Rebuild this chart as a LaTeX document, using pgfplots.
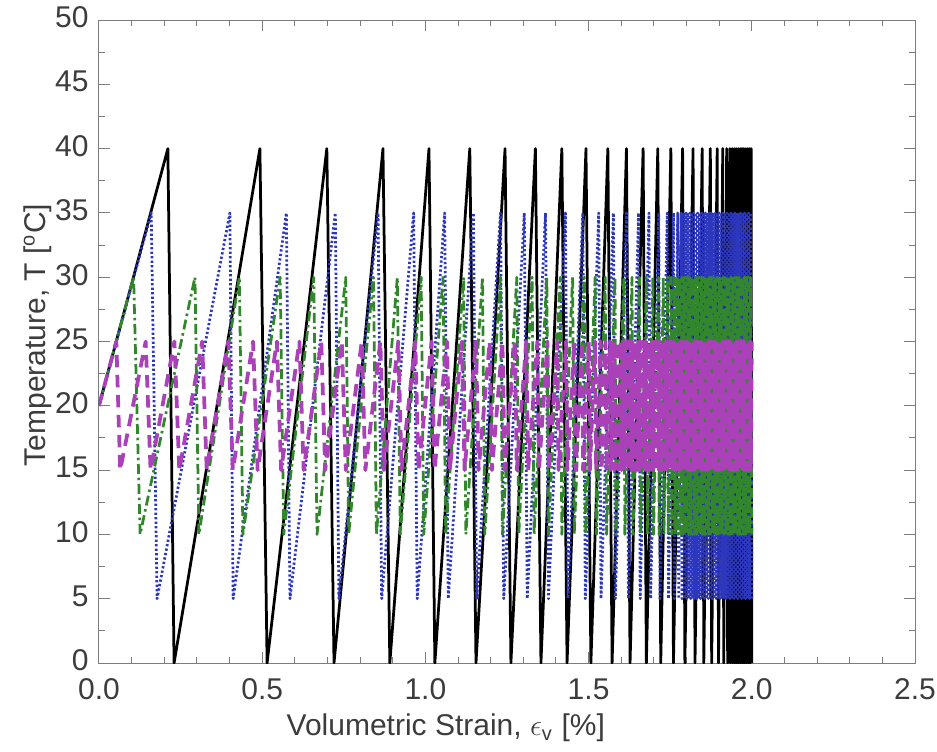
\documentclass[border=0pt]{standalone}
\usepackage{fontspec}
\setmainfont{Liberation Sans}
\usepackage{pgfplots}
\pgfplotsset{compat=1.18}
\definecolor{cblue}{RGB}{45,55,190}
\definecolor{cgreen}{RGB}{50,135,45}
\definecolor{cmag}{RGB}{170,65,185}
\definecolor{cframe}{RGB}{125,125,125}
\definecolor{ctext}{RGB}{60,60,60}
\begin{document}
\fontsize{12}{14}\selectfont
\begin{tikzpicture}
\path[use as bounding box] (-39.6pt,-35.2pt) rectangle (335.2pt,265.2pt);
\begin{axis}[
  at={(0,0)}, anchor=south west,
  scale only axis, width=326.4pt, height=257.2pt,
  xmin=0, xmax=2.5, ymin=0, ymax=50,
  xtick={0,0.5,1,1.5,2,2.5}, ytick={0,5,10,15,20,25,30,35,40,45,50},
  minor x tick num=4, minor y tick num=1,
  axis line style={cframe}, tick style={cframe, line width=0.4pt},
  major tick length=4.5pt, minor tick length=2.5pt,
  x tick label style={/pgf/number format/.cd, fixed, fixed zerofill, precision=1, /tikz/.cd, yshift=-2pt},
  y tick label style={yshift=1pt},
  /pgf/number format/assume math mode=true,
  tick label style={text=ctext, font=\fontsize{12}{14}\selectfont},
  xlabel={Volumetric Strain, $\epsilon$\textsubscript{v} [\%]},
  ylabel={Temperature, T [\textsuperscript{o}C]},
  label style={text=ctext, font=\fontsize{12}{14}\selectfont},
  xlabel style={at={(axis description cs:0.425,0)}, anchor=base, yshift=-29pt},
  ylabel style={at={(axis description cs:-0.075,0.51)}, anchor=center},
  every axis plot/.append style={line join=round},
]
% black: 0 - 40
\addplot[black, line width=1.1pt] coordinates {
(0,20)(0.211,40)(0.230,0)(0.493,40)(0.515,0)(0.698,40)(0.720,0)(0.870,40)(0.891,0)(1.011,40)(1.029,0)(1.136,40)(1.155,0)(1.244,40)(1.262,0)(1.337,40)(1.354,0)(1.418,40)(1.434,0)(1.492,40)(1.507,0)(1.559,40)(1.572,0)(1.616,40)(1.627,0)(1.667,40)(1.677,0)(1.712,40)(1.721,0)(1.752,40)(1.760,0)(1.788,40)(1.795,0)(1.820,40)(1.826,0)(1.848,40)(1.853,0)(1.873,40)(1.877,0)(1.894,40)(1.898,0)(1.911,40)(1.914,0)(1.923,40)(1.926,0)(1.933,40)(1.935,0)(1.940,40)(1.942,0)(1.946,40)(1.948,0)(1.952,40)(1.954,0)(1.958,40)(1.960,0)(1.964,40)(1.966,0)(1.970,40)(1.972,0)(1.976,40)(1.978,0)(1.982,40)(1.984,0)(1.988,40)(1.990,0)(1.993,40)(1.995,0)(1.998,40)(2.000,0)
};
% blue: 5 - 35
\addplot[cblue, line width=1.1pt, dash pattern=on 0.9pt off 0.9pt] coordinates {
(0,20)(0.160,35)(0.178,5)(0.401,35)(0.411,5)(0.574,35)(0.585,5)(0.724,35)(0.735,5)(0.855,35)(0.866,5)(0.964,35)(0.975,5)(1.059,35)(1.070,5)(1.147,35)(1.157,5)(1.230,35)(1.240,5)(1.303,35)(1.312,5)(1.368,35)(1.377,5)(1.429,35)(1.437,5)(1.482,35)(1.490,5)(1.531,35)(1.538,5)(1.576,35)(1.582,5)(1.616,35)(1.622,5)(1.653,35)(1.658,5)(1.685,35)(1.690,5)(1.715,35)(1.719,5)(1.741,35)(1.745,5)(1.760,35)(1.763,5)(1.773,35)(1.776,5)(1.784,35)(1.786,5)(1.792,35)(1.794,5)(1.799,35)(1.801,5)
(1.804,35)(1.807,5)(1.810,35)(1.813,5)(1.816,35)(1.819,5)(1.822,35)(1.825,5)(1.828,35)(1.831,5)(1.834,35)(1.837,5)(1.840,35)(1.843,5)(1.846,35)(1.849,5)(1.852,35)(1.855,5)(1.858,35)(1.861,5)(1.864,35)(1.867,5)(1.870,35)(1.873,5)(1.876,35)(1.879,5)(1.882,35)(1.885,5)(1.888,35)(1.891,5)(1.894,35)(1.897,5)(1.900,35)(1.903,5)(1.906,35)(1.909,5)(1.912,35)(1.915,5)(1.918,35)(1.921,5)(1.924,35)(1.927,5)(1.930,35)(1.933,5)(1.936,35)(1.939,5)(1.942,35)(1.945,5)(1.948,35)(1.951,5)(1.954,35)(1.957,5)(1.960,35)(1.963,5)(1.966,35)(1.969,5)(1.972,35)(1.975,5)(1.978,35)(1.981,5)(1.984,35)(1.987,5)(1.990,35)(1.993,5)(1.996,35)(2.000,5)
};
% green: 10 - 30
\addplot[cgreen, line width=1.1pt, dash pattern=on 4pt off 1.5pt on 1pt off 1.5pt] coordinates {
(0,20)(0.106,30)(0.126,10)(0.294,30)(0.306,10)(0.430,30)(0.441,10)(0.555,30)(0.566,10)(0.658,30)(0.668,10)(0.756,30)(0.765,10)(0.841,30)(0.850,10)(0.914,30)(0.923,10)(0.987,30)(0.995,10)(1.054,30)(1.062,10)(1.117,30)(1.124,10)(1.175,30)(1.182,10)(1.230,30)(1.236,10)(1.280,30)(1.286,10)(1.327,30)(1.333,10)(1.372,30)(1.377,10)(1.413,30)(1.418,10)(1.451,30)(1.456,10)(1.487,30)(1.491,10)(1.520,30)(1.524,10)(1.551,30)(1.555,10)(1.581,30)(1.584,10)(1.608,30)(1.611,10)(1.633,30)(1.636,10)(1.656,30)(1.659,10)(1.677,30)(1.680,10)(1.697,30)(1.699,10)(1.714,30)(1.716,10)(1.729,30)(1.731,10)(1.742,30)(1.744,10)(1.753,30)(1.755,10)(1.763,30)(1.765,10)(1.772,30)(1.774,10)(1.780,30)(1.782,10)(1.786,30)(1.789,10)
(1.792,30)(1.795,10)(1.798,30)(1.801,10)(1.804,30)(1.807,10)(1.810,30)(1.813,10)(1.816,30)(1.819,10)(1.822,30)(1.825,10)(1.828,30)(1.831,10)(1.834,30)(1.837,10)(1.840,30)(1.843,10)(1.846,30)(1.849,10)(1.852,30)(1.855,10)(1.858,30)(1.861,10)(1.864,30)(1.867,10)(1.870,30)(1.873,10)(1.876,30)(1.879,10)(1.882,30)(1.885,10)(1.888,30)(1.891,10)(1.894,30)(1.897,10)(1.900,30)(1.903,10)(1.906,30)(1.909,10)(1.912,30)(1.915,10)(1.918,30)(1.921,10)(1.924,30)(1.927,10)(1.930,30)(1.933,10)(1.936,30)(1.939,10)(1.942,30)(1.945,10)(1.948,30)(1.951,10)(1.954,30)(1.957,10)(1.960,30)(1.963,10)(1.966,30)(1.969,10)(1.972,30)(1.975,10)(1.978,30)(1.981,10)(1.984,30)(1.987,10)(1.990,30)(1.993,10)(1.996,30)(2.000,10)
};
% magenta: 15 - 25
\addplot[cmag, line width=1.5pt, dash pattern=on 5pt off 3pt] coordinates {
(0,20)(0.053,25)(0.065,15)(0.143,25)(0.158,15)(0.231,25)(0.246,15)(0.316,25)(0.330,15)(0.396,25)(0.410,15)(0.472,25)(0.486,15)(0.545,25)(0.558,15)(0.614,25)(0.627,15)(0.681,25)(0.693,15)(0.744,25)(0.756,15)(0.805,25)(0.816,15)(0.862,25)(0.873,15)(0.917,25)(0.927,15)(0.969,25)(0.979,15)(1.019,25)(1.028,15)(1.066,25)(1.075,15)(1.112,25)(1.120,15)(1.155,25)(1.163,15)(1.197,25)(1.204,15)(1.236,25)(1.243,15)(1.274,25)(1.280,15)(1.309,25)(1.315,15)(1.343,25)(1.348,15)(1.374,25)(1.379,15)(1.404,25)(1.408,15)(1.431,25)(1.435,15)(1.456,25)(1.460,15)(1.480,25)(1.483,15)(1.501,25)(1.504,15)(1.520,25)(1.523,15)(1.537,25)(1.540,15)(1.552,25)(1.555,15)(1.566,25)(1.568,15)(1.578,25)(1.580,15)(1.589,25)(1.591,15)(1.599,25)(1.601,15)(1.608,25)(1.610,15)(1.616,25)(1.618,15)(1.623,25)(1.625,15)
(1.628,25)(1.631,15)(1.634,25)(1.637,15)(1.640,25)(1.643,15)(1.646,25)(1.649,15)(1.652,25)(1.655,15)(1.658,25)(1.661,15)(1.664,25)(1.667,15)(1.670,25)(1.673,15)(1.676,25)(1.679,15)(1.682,25)(1.685,15)(1.688,25)(1.691,15)(1.694,25)(1.697,15)(1.700,25)(1.703,15)(1.706,25)(1.709,15)(1.712,25)(1.715,15)(1.718,25)(1.721,15)(1.724,25)(1.727,15)(1.730,25)(1.733,15)(1.736,25)(1.739,15)(1.742,25)(1.745,15)(1.748,25)(1.751,15)(1.754,25)(1.757,15)(1.760,25)(1.763,15)(1.766,25)(1.769,15)(1.772,25)(1.775,15)(1.778,25)(1.781,15)(1.784,25)(1.787,15)(1.790,25)(1.793,15)(1.796,25)(1.799,15)(1.802,25)(1.805,15)(1.808,25)(1.811,15)(1.814,25)(1.817,15)(1.820,25)(1.823,15)(1.826,25)(1.829,15)(1.832,25)(1.835,15)(1.838,25)(1.841,15)(1.844,25)(1.847,15)(1.850,25)(1.853,15)(1.856,25)(1.859,15)(1.862,25)(1.865,15)(1.868,25)(1.871,15)(1.874,25)(1.877,15)(1.880,25)(1.883,15)(1.886,25)(1.889,15)(1.892,25)(1.895,15)(1.898,25)(1.901,15)(1.904,25)(1.907,15)(1.910,25)(1.913,15)(1.916,25)(1.919,15)(1.922,25)(1.925,15)(1.928,25)(1.931,15)(1.934,25)(1.937,15)(1.940,25)(1.943,15)(1.946,25)(1.949,15)(1.952,25)(1.955,15)(1.958,25)(1.961,15)(1.964,25)(1.967,15)(1.970,25)(1.973,15)(1.976,25)(1.979,15)(1.982,25)(1.985,15)(1.988,25)(1.991,15)(1.994,25)(1.997,15)(2.000,25)
};
\end{axis}
\end{tikzpicture}
\end{document}
